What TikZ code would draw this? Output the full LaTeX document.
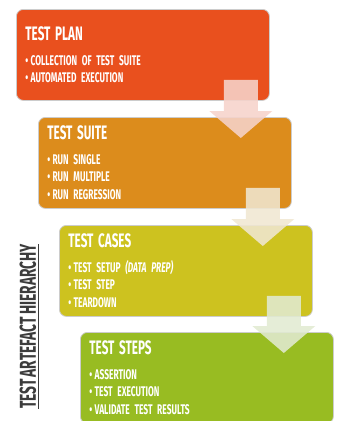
\documentclass[tikz,border=0pt]{standalone}
\usepackage{fontspec}
\setmainfont{Fira Sans}[FakeStretch=0.6, WordSpace=0.6]
\usetikzlibrary{calc}

\definecolor{planc}{HTML}{E9501E}
\definecolor{suitec}{HTML}{DC8C1C}
\definecolor{casesc}{HTML}{CDC21F}
\definecolor{stepsc}{HTML}{98BC22}
\definecolor{planarrow}{HTML}{F6D3CB}
\definecolor{suitearrow}{HTML}{F0E7D1}
\definecolor{casesarrow}{HTML}{E1EAD1}
\definecolor{sidegray}{HTML}{3C3C3C}

\newcommand{\leveltitle}[1]{{\fontsize{19.5}{22}\selectfont #1}\\[7pt]}

\begin{document}
\begin{tikzpicture}[x=1pt, y=-1pt,
  level/.style={draw=black!20, line width=0.8pt, rounded corners=7pt,
    anchor=north west, minimum width=253pt, minimum height=91pt,
    text width=235pt, inner xsep=9pt, align=left, text=white,
    font=\bfseries\fontsize{14}{17.5}\selectfont},
  levelarrow/.style={opacity=0.88}]
  \clip (0,0) rectangle (339,421);
  % Levels
  \node[level, fill=planc] (plan) at (16,9) {\leveltitle{TEST PLAN}
    \textbullet\,COLLECTION OF TEST SUITE\\
    \textbullet\,AUTOMATED EXECUTION};
  \node[level, fill=suitec] (suite) at (38,117) {\leveltitle{TEST SUITE}
    \textbullet\,RUN SINGLE\\
    \textbullet\,RUN MULTIPLE\\
    \textbullet\,RUN REGRESSION};
  \node[level, fill=casesc] (cases) at (59,225) {\leveltitle{TEST CASES}
    \textbullet\,TEST SETUP \textit{(DATA PREP)}\\
    \textbullet\,TEST STEP\\
    \textbullet\,TEARDOWN};
  \node[level, fill=stepsc] (steps) at (80,332) {\leveltitle{TEST STEPS}
    \textbullet\,ASSERTION\\
    \textbullet\,TEST EXECUTION\\
    \textbullet\,VALIDATE TEST RESULTS};
  % Arrows between levels
  \foreach \from/\to/\col in {plan/suite/planarrow, suite/cases/suitearrow, cases/steps/casesarrow}{
    \coordinate (\from-top) at ($(\from.south east)+(-29,-21)$);
    \coordinate (\from-tip) at ($(\from-top |- \to.north)+(0,21)$);
    \fill[levelarrow, \col] ($(\from-top)+(-17,0)$) -- ($(\from-top)+(17,0)$)
      -- ($(\from-tip)+(17,-27)$) -- ($(\from-tip)+(31.5,-27)$) -- (\from-tip)
      -- ($(\from-tip)+(-31.5,-27)$) -- ($(\from-tip)+(-17,-27)$) -- cycle;
  }
  % Side label
  \node[rotate=90, text=sidegray, font=\bfseries\fontsize{23}{23}\selectfont] (side) at (29,326.5)
    {\underline{TEST ARTEFACT HIERARCHY}};
\end{tikzpicture}
\end{document}
